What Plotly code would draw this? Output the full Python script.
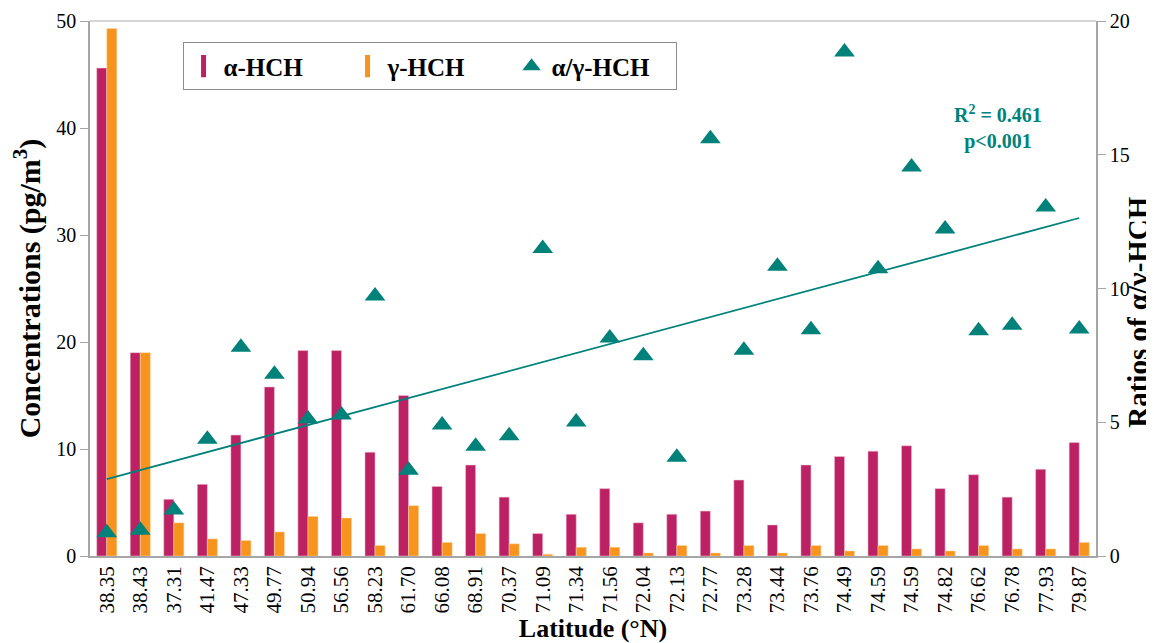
import numpy as np
import plotly.graph_objects as go

latitudes = ["38.35", "38.43", "37.31", "41.47", "47.33", "49.77", "50.94", "56.56", "58.23", "61.70",
             "66.08", "68.91", "70.37", "71.09", "71.34", "71.56", "72.04", "72.13", "72.77", "73.28",
             "73.44", "73.76", "74.49", "74.59", "74.59", "74.82", "76.62", "76.78", "77.93", "79.87"]
alpha_hch = [45.6, 19.0, 5.3, 6.7, 11.3, 15.8, 19.2, 19.2, 9.7, 15.0,
             6.5, 8.5, 5.5, 2.1, 3.9, 6.3, 3.1, 3.9, 4.2, 7.1,
             2.9, 8.5, 9.3, 9.8, 10.3, 6.3, 7.6, 5.5, 8.1, 10.6]
gamma_hch = [49.3, 19.0, 3.1, 1.6, 1.45, 2.25, 3.7, 3.55, 0.98, 4.7,
             1.27, 2.1, 1.14, 0.16, 0.82, 0.82, 0.28, 0.98, 0.28, 0.98,
             0.28, 0.98, 0.47, 0.98, 0.66, 0.47, 0.98, 0.66, 0.66, 1.27]
ratio = [0.87, 0.96, 1.72, 4.36, 7.8, 6.79, 5.12, 5.27, 9.72, 3.21,
         4.9, 4.1, 4.5, 11.5, 5.01, 8.15, 7.49, 3.69, 15.6, 7.69,
         10.83, 8.46, 18.84, 10.74, 14.54, 12.22, 8.42, 8.63, 13.05, 8.49]

idx = list(range(len(latitudes)))
slope, intercept = np.polyfit(idx, ratio, 1)
trend_x = [idx[0], idx[-1]]
trend_y = [intercept + slope * x for x in trend_x]

FONT = "Liberation Serif"
ALPHA_C = "#BC2263"
GAMMA_C = "#F7941D"
TEAL = "#00827A"
AXC = "#A6A6A6"

fig = go.Figure()
fig.add_trace(go.Bar(x=idx, y=alpha_hch, name="α-HCH", showlegend=False,
                     marker=dict(color=ALPHA_C, line=dict(color="#F2C6D6", width=0.5))))
fig.add_trace(go.Bar(x=idx, y=gamma_hch, name="γ-HCH", showlegend=False,
                     marker=dict(color=GAMMA_C, line=dict(color="#FBD9B0", width=0.5))))
# legend-only entries (rectangular swatches like the reference)
fig.add_trace(go.Scatter(x=[None], y=[None], name="α-HCH", mode="markers",
                         marker=dict(symbol="line-ns", size=17, line=dict(color=ALPHA_C, width=10))))
fig.add_trace(go.Scatter(x=[None], y=[None], name="γ-HCH", mode="markers",
                         marker=dict(symbol="line-ns", size=17, line=dict(color=GAMMA_C, width=10))))
fig.add_trace(go.Scatter(x=idx, y=ratio, name="α/γ-HCH", mode="markers", yaxis="y2",
                         marker=dict(symbol="triangle-up", size=18, color=TEAL)))
fig.add_trace(go.Scatter(x=trend_x, y=trend_y, mode="lines", yaxis="y2", showlegend=False,
                         line=dict(color=TEAL, width=1.8)))

fig.update_layout(
    width=1146, height=635,
    margin=dict(l=82, r=58, t=13, b=87, autoexpand=False),
    paper_bgcolor="white", plot_bgcolor="white",
    font=dict(family=FONT, size=20, color="black"),
    barmode="group", bargap=0.4, bargroupgap=0,
    showlegend=True,
    legend=dict(orientation="h", x=0.092, y=0.96, xanchor="left", yanchor="top",
                bordercolor="#8C8C8C", borderwidth=1, bgcolor="white",
                font=dict(family=FONT, size=25, color="black", weight="bold"),
                entrywidth=119, itemsizing="trace", valign="middle"),
    xaxis=dict(tickmode="array", tickvals=idx, ticktext=latitudes, tickangle=-90,
               range=[-0.5, len(idx) - 0.5], showline=True, linecolor=AXC, linewidth=1.5,
               ticks="", tickfont=dict(family=FONT, size=21), automargin=False,
               title=dict(text="Latitude (°N)", font=dict(family=FONT, size=26, weight="bold"), standoff=12)),
    yaxis=dict(range=[0, 50], dtick=10, showgrid=False, showline=True, linecolor=AXC, linewidth=1.5,
               ticks="outside", ticklen=8, tickcolor=AXC, tickfont=dict(family=FONT, size=20),
               zeroline=False, automargin=False,
               title=dict(text="Concentrations (pg/m<sup>3</sup>)",
                          font=dict(family=FONT, size=30, weight="bold"), standoff=10)),
    yaxis2=dict(range=[0, 20], dtick=5, overlaying="y", side="right", showgrid=False, showline=True,
                linecolor=AXC, linewidth=1.5, ticks="outside", ticklen=8, tickcolor=AXC,
                tickfont=dict(family=FONT, size=20), zeroline=False, automargin=False),
    shapes=[dict(type="line", xref="paper", yref="paper", x0=0, x1=1, y0=1, y1=1,
                 line=dict(color="#C8C8C8", width=1.5))],
    annotations=[
        dict(text="R<sup>2</sup> = 0.461<br>p<0.001", xref="paper", yref="paper", x=0.903, y=0.80,
             xanchor="center", yanchor="middle", showarrow=False, align="center",
             font=dict(family=FONT, size=20, color=TEAL, weight="bold")),
        dict(text="Ratios of α/γ-HCH", xref="paper", yref="paper", x=1.041, y=0.457,
             xanchor="center", yanchor="middle", showarrow=False, textangle=-90,
             font=dict(family=FONT, size=29, color="black", weight="bold")),
    ],
)

fig.write_html("out.html")
